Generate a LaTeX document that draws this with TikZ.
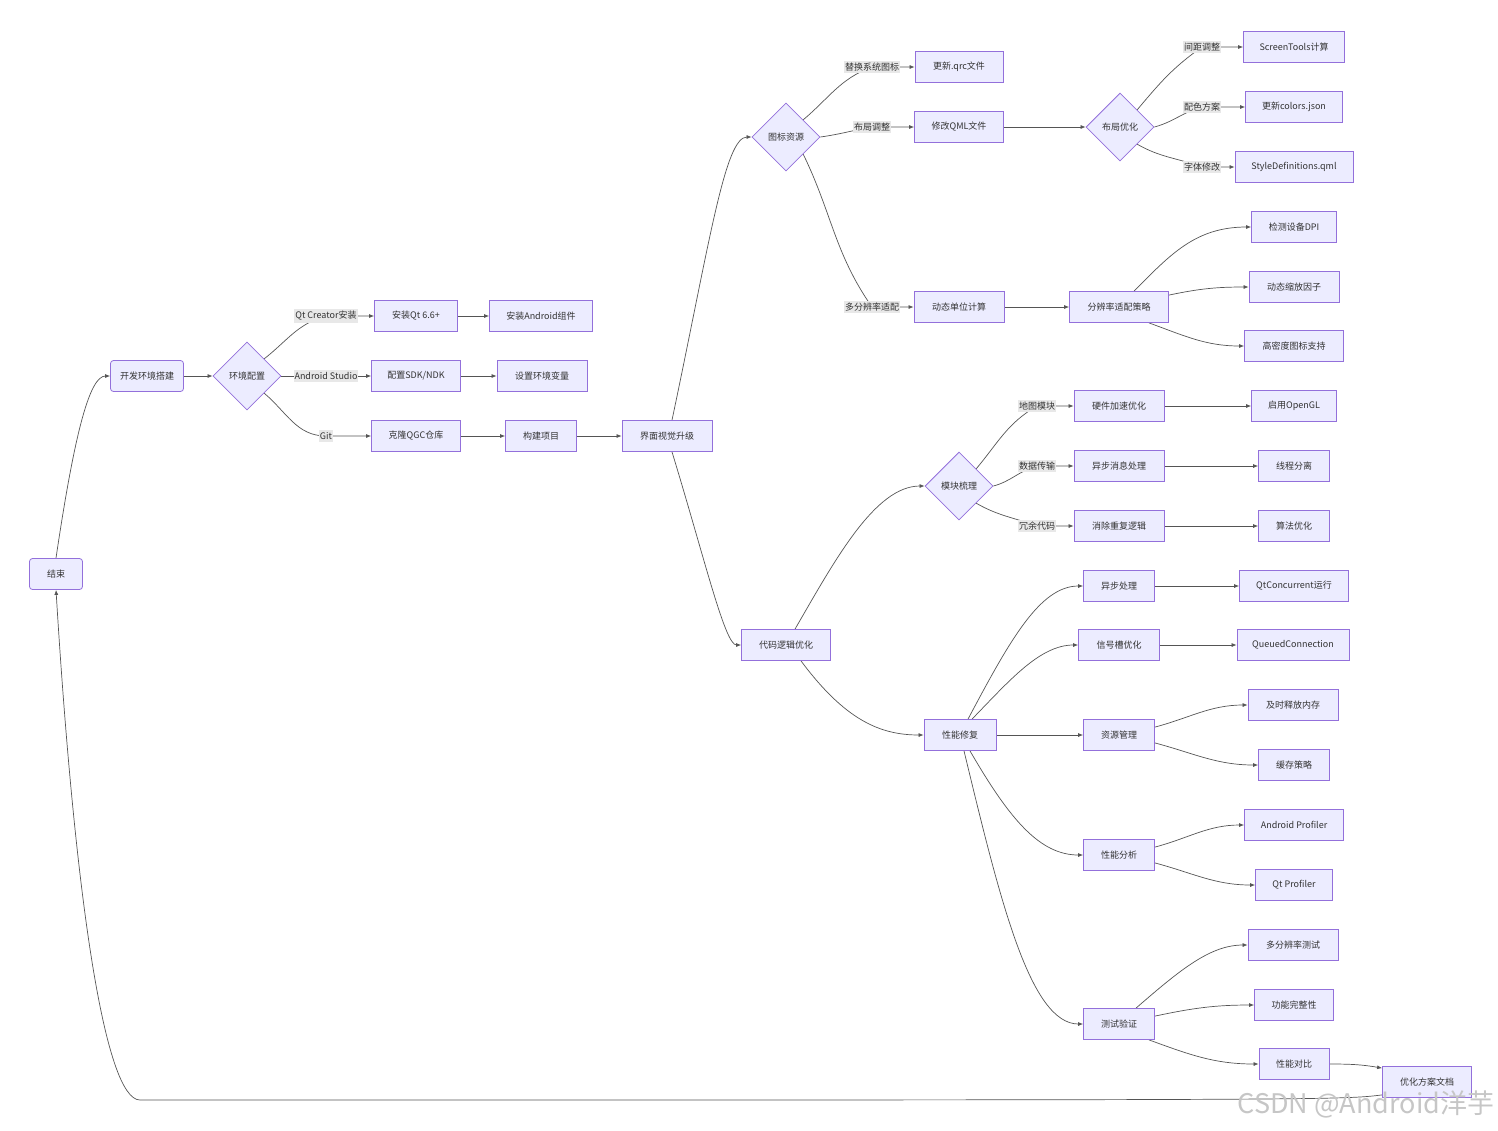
\documentclass[tikz,border=0pt]{standalone}
\usepackage{fontspec}
\setmainfont{Noto Sans CJK SC}
\usepackage{tikz}
\usetikzlibrary{arrows.meta}
\usetikzlibrary{shapes.geometric}
\usetikzlibrary{backgrounds}
\definecolor{lavande}{HTML}{9370DB}
\definecolor{fondvio}{HTML}{ECECFF}
\definecolor{texte}{HTML}{333333}
\definecolor{fondetiq}{HTML}{E8E8E8}
\definecolor{trait}{HTML}{555555}

\begin{document}
\begin{tikzpicture}[x=1pt, y=-1pt]
	% STYLES
	\tikzstyle{boite} = [draw=lavande, fill=fondvio, line width=0.8pt, minimum height=31pt, inner sep=0pt, text=texte, font=\fontsize{9}{11}\selectfont]
	\tikzstyle{losange} = [diamond, draw=lavande, fill=fondvio, line width=0.8pt, minimum width=68pt, minimum height=68pt, inner sep=0pt, text=texte, font=\fontsize{9}{11}\selectfont]
	\tikzstyle{etiquette} = [fill=fondetiq, inner xsep=1pt, inner ysep=2pt, text=texte, font=\fontsize{9}{11}\selectfont]
	\tikzstyle{ligne} = [draw=trait, line width=0.7pt]
	\tikzstyle{fleche} = [ligne, -{Latex[length=5pt,width=4pt]}]
	\tikzstyle{filigrane} = [text=gray!45, font=\fontsize{27}{30}\selectfont]

	\useasboundingbox (0,0) rectangle (1498,1130);

	% NOEUDS : environnement
	\node[boite, rounded corners=3pt, minimum width=53pt] at (56, 574) (fin) {结束};
	\node[boite, rounded corners=3pt, minimum width=73pt] at (147, 376) (dev) {开发环境搭建};
	\node[losange] at (247, 376) (env) {环境配置};
	\node[etiquette] at (326, 316) (lQt) {Qt Creator安装};
	\node[etiquette] at (326, 376) (lAs) {Android Studio};
	\node[etiquette] at (326, 436) (lGit) {Git};
	\node[boite, minimum width=83pt] at (416, 316) (qt) {安装Qt 6.6+};
	\node[boite, minimum width=103pt] at (541, 316) (andc) {安装Android组件};
	\node[boite, minimum width=89pt] at (416, 376) (sdk) {配置SDK/NDK};
	\node[boite, minimum width=90pt] at (542, 376) (var) {设置环境变量};
	\node[boite, minimum width=89pt] at (416, 436) (clone) {克隆QGC仓库};
	\node[boite, minimum width=71pt] at (541, 436) (build) {构建项目};
	\node[boite, minimum width=90pt] at (667, 436) (ui) {界面视觉升级};

	% NOEUDS : interface
	\node[losange] at (786, 137) (icon) {图标资源};
	\node[etiquette] at (872, 67) (lIcn) {替换系统图标};
	\node[etiquette] at (872, 127) (lLay) {布局调整};
	\node[etiquette] at (872, 307) (lRes) {多分辨率适配};
	\node[boite, minimum width=88pt] at (959, 67) (qrc) {更新.qrc文件};
	\node[boite, minimum width=89pt] at (959, 127) (qml) {修改QML文件};
	\node[boite, minimum width=90pt] at (959, 307) (unit) {动态单位计算};
	\node[losange] at (1120, 127) (lay) {布局优化};
	\node[etiquette] at (1202, 47) (lSp) {间距调整};
	\node[etiquette] at (1202, 107) (lCol) {配色方案};
	\node[etiquette] at (1202, 167) (lFont) {字体修改};
	\node[boite, minimum width=101pt] at (1294, 47) (st) {ScreenTools计算};
	\node[boite, minimum width=97pt] at (1294, 107) (col) {更新colors.json};
	\node[boite, minimum width=118pt] at (1294, 167) (sty) {StyleDefinitions.qml};
	\node[boite, minimum width=99pt] at (1119, 307) (strat) {分辨率适配策略};
	\node[boite, minimum width=85pt] at (1294, 227) (dpi) {检测设备DPI};
	\node[boite, minimum width=90pt] at (1294, 287) (scale) {动态缩放因子};
	\node[boite, minimum width=99pt] at (1294, 346) (hd) {高密度图标支持};

	% NOEUDS : code
	\node[boite, minimum width=89pt] at (786, 645) (code) {代码逻辑优化};
	\node[losange] at (959, 486) (mod) {模块梳理};
	\node[etiquette] at (1037, 406) (lMap) {地图模块};
	\node[etiquette] at (1037, 466) (lData) {数据传输};
	\node[etiquette] at (1037, 526) (lDup) {冗余代码};
	\node[boite, minimum width=90pt] at (1119, 406) (hw) {硬件加速优化};
	\node[boite, minimum width=90pt] at (1119, 466) (msg) {异步消息处理};
	\node[boite, minimum width=90pt] at (1119, 526) (dup) {消除重复逻辑};
	\node[boite, minimum width=85pt] at (1294, 406) (gl) {启用OpenGL};
	\node[boite, minimum width=71pt] at (1294, 466) (thr) {线程分离};
	\node[boite, minimum width=71pt] at (1294, 526) (algo) {算法优化};

	% NOEUDS : performance
	\node[boite, minimum width=72pt] at (960, 735) (perf) {性能修复};
	\node[boite, minimum width=71pt] at (1119, 586) (async) {异步处理};
	\node[boite, minimum width=81pt] at (1119, 645) (sig) {信号槽优化};
	\node[boite, minimum width=71pt] at (1119, 735) (res) {资源管理};
	\node[boite, minimum width=71pt] at (1119, 855) (ana) {性能分析};
	\node[boite, minimum width=71pt] at (1119, 1024) (test) {测试验证};
	\node[boite, minimum width=109pt] at (1294, 586) (conc) {QtConcurrent运行};
	\node[boite, minimum width=112pt] at (1293, 645) (queue) {QueuedConnection};
	\node[boite, minimum width=90pt] at (1293, 705) (mem) {及时释放内存};
	\node[boite, minimum width=71pt] at (1294, 765) (cache) {缓存策略};
	\node[boite, minimum width=99pt] at (1294, 825) (aprof) {Android Profiler};
	\node[boite, minimum width=77pt] at (1294, 885) (qprof) {Qt Profiler};
	\node[boite, minimum width=90pt] at (1293, 945) (mres) {多分辨率测试};
	\node[boite, minimum width=79pt] at (1294, 1005) (func) {功能完整性};
	\node[boite, minimum width=70pt] at (1294, 1064) (cmp) {性能对比};
	\node[boite, minimum width=89pt] at (1427, 1082) (doc) {优化方案文档};
	\coordinate (coin) at (140, 1100);

	\begin{scope}[on background layer]
	% ARETES : environnement
	\path[fleche] (fin.north) .. controls (75,430) and (90,376) .. (dev.west);
	\path[fleche] (dev) -- (env);
	\path[fleche] (env.north east) to[out=38,in=195] (lQt.center) -- (qt.west);
	\path[fleche] (env.east) -- (sdk.west);
	\path[fleche] (env.south east) to[out=-40,in=180] (lGit.center) -- (clone.west);
	\path[fleche] (qt) -- (andc);
	\path[fleche] (sdk) -- (var);
	\path[fleche] (clone) -- (build);
	\path[fleche] (build) -- (ui);
	\path[fleche] ([xshift=5pt]ui.north) .. controls (710,240) and (725,137) .. (icon.west);
	\path[fleche] ([xshift=5pt]ui.south) .. controls (705,560) and (725,645) .. (code.west);

	% ARETES : interface
	\path[fleche] (icon.north east) to[out=40,in=200] (lIcn.center) -- (qrc.west);
	\path[fleche] (icon.east) to[out=8,in=190] (lLay.center) -- (qml.west);
	\path[fleche] (icon.south east) to[out=-64,in=125] (lRes.center) -- (unit.west);
	\path[fleche] (qml) -- (lay);
	\path[fleche] (unit) -- (strat);
	\path[fleche] (lay.north east) to[out=50,in=215] (lSp.center) -- (st.west);
	\path[fleche] (lay.east) to[out=15,in=195] (lCol.center) -- (col.west);
	\path[fleche] (lay.south east) to[out=-30,in=160] (lFont.center) -- (sty.west);
	\path[fleche] ([xshift=15pt]strat.north) .. controls (1170,255) and (1195,227) .. (dpi.west);
	\path[fleche] ([yshift=-4pt]strat.north east) to[out=12,in=180] (scale.west);
	\path[fleche] ([xshift=30pt]strat.south) to[out=-20,in=180] (hd.west);

	% ARETES : code
	\path[fleche] ([xshift=9pt]code.north) .. controls (835,560) and (875,486) .. (mod.west);
	\path[fleche] ([xshift=15pt]code.south) .. controls (845,720) and (880,735) .. (perf.west);
	\path[fleche] (mod.north east) to[out=50,in=210] (lMap.center) -- (hw.west);
	\path[fleche] (mod.east) to[out=15,in=195] (lData.center) -- (msg.west);
	\path[fleche] (mod.south east) to[out=-30,in=160] (lDup.center) -- (dup.west);
	\path[fleche] (hw) -- (gl);
	\path[fleche] (msg) -- (thr);
	\path[fleche] (dup) -- (algo);

	% ARETES : performance
	\path[fleche] ([xshift=8pt]perf.north) .. controls (1010,640) and (1040,586) .. (async.west);
	\path[fleche] ([xshift=12pt]perf.north) .. controls (1010,680) and (1040,645) .. (sig.west);
	\path[fleche] (perf) -- (res);
	\path[fleche] ([xshift=10pt]perf.south) .. controls (1010,820) and (1040,855) .. (ana.west);
	\path[fleche] ([xshift=4pt]perf.south) .. controls (1000,900) and (1030,1024) .. (test.west);
	\path[fleche] (async) -- (conc);
	\path[fleche] (sig) -- (queue);
	\path[fleche] ([yshift=-8pt]res.north east) to[out=15,in=180] (mem.west);
	\path[fleche] ([yshift=8pt]res.south east) to[out=-15,in=180] (cache.west);
	\path[fleche] ([yshift=-8pt]ana.north east) to[out=15,in=180] (aprof.west);
	\path[fleche] ([yshift=8pt]ana.south east) to[out=-15,in=180] (qprof.west);
	\path[fleche] ([xshift=17pt]test.north) .. controls (1180,970) and (1210,945) .. (mres.west);
	\path[fleche] ([yshift=-8pt]test.north east) to[out=12,in=180] (func.west);
	\path[fleche] ([xshift=30pt]test.south) to[out=-20,in=180] (cmp.west);
	\path[fleche] (cmp.east) to[out=0,in=170] ([yshift=-2pt]doc.north west);
	\path[fleche] ([yshift=3pt]doc.south west) .. controls (1340,1100) .. (coin) .. controls (105,1100) and (75,900) .. (fin.south);
	\end{scope}

	% FILIGRANE
	\node[filigrane] at (1366, 1104) (wm) {CSDN @Android洋芋};
\end{tikzpicture}
\end{document}
